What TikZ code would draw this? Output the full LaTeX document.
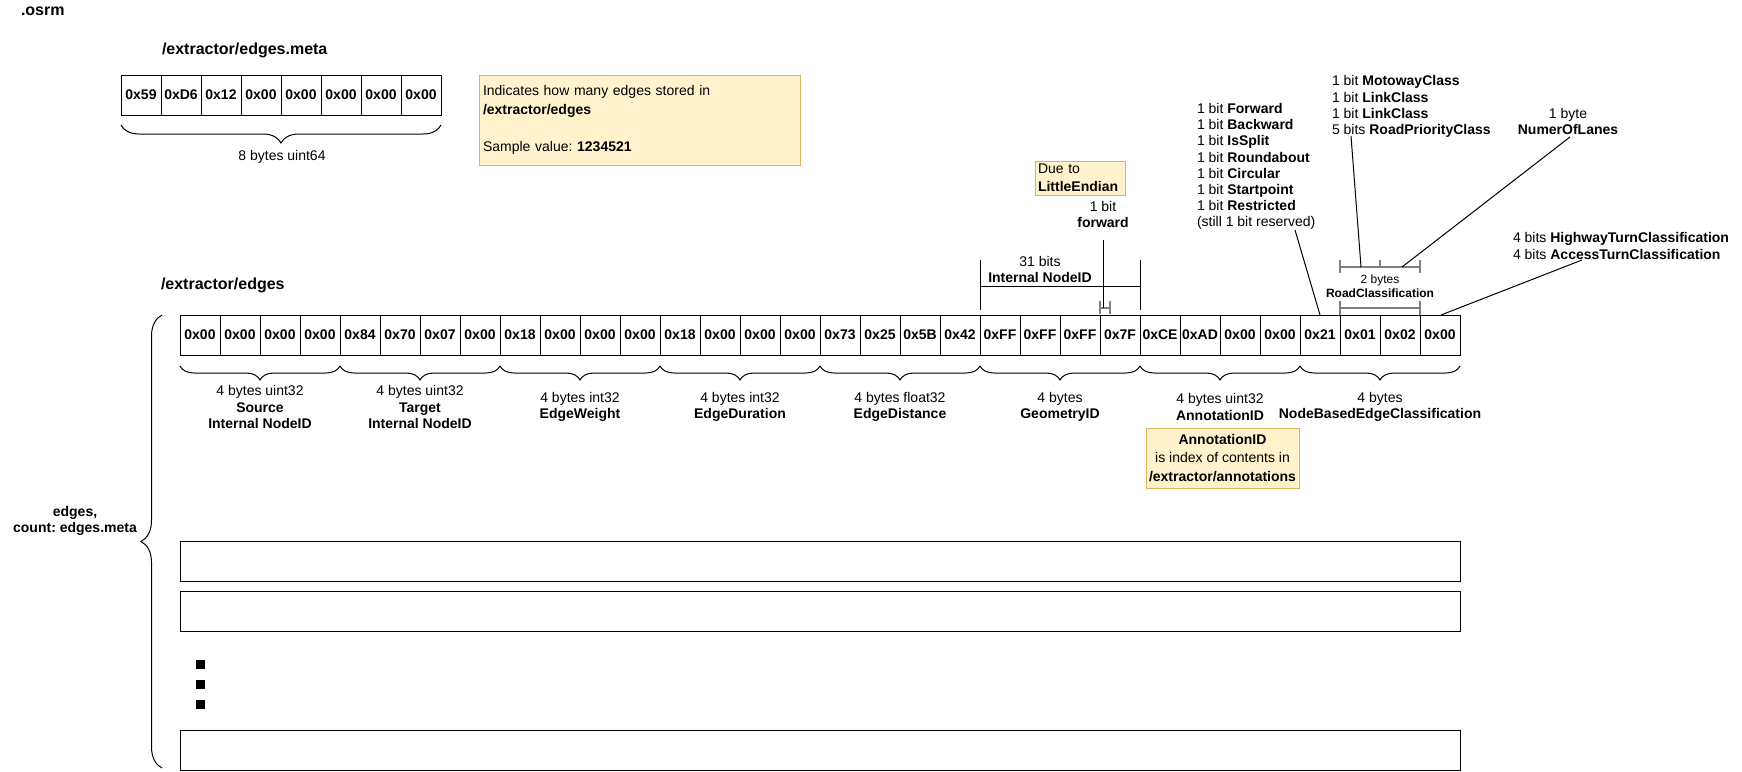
\documentclass[tikz,border=0pt]{standalone}
\usepackage{fontspec}
\setmainfont{Liberation Sans}
\usetikzlibrary{decorations.pathreplacing}
\definecolor{notefill}{HTML}{FFF2CC}
\definecolor{noteline}{HTML}{D6B656}
\definecolor{bracketgray}{HTML}{808080}
\frenchspacing
\begin{document}
\begin{tikzpicture}[x=1pt,y=-1pt,line width=1pt,
  every node/.style={inner sep=0pt,outer sep=0pt},
  lbl/.style={font=\fontsize{14}{16.5}\selectfont,align=center},
  title/.style={font=\bfseries\fontsize{16}{19}\selectfont,anchor=west},
  byte/.style={draw,minimum width=40pt,minimum height=40pt,anchor=north west,
    font=\bfseries\fontsize{14}{16}\selectfont},
  recordrow/.style={draw,minimum width=1280pt,minimum height=40pt,anchor=north west},
  note/.style={draw=noteline,fill=notefill,font=\fontsize{14}{18.5}\selectfont},
  brace/.style={decorate,decoration={brace,mirror,amplitude=14pt}},
  bits/.style={font=\fontsize{14}{16.1}\selectfont,align=left,anchor=west},
  gbar/.style={draw=bracketgray,line width=2pt},
]
\useasboundingbox (0,0) rectangle (1742,771);

% ---------- /extractor/edges.meta ----------
\node[title] (osrm) at (21,11) {.osrm};
\node[title] (metatitle) at (162,50) {/extractor/edges.meta};
\foreach \v [count=\i from 0] in {0x59,0xD6,0x12,0x00,0x00,0x00,0x00,0x00}
  \node[byte] (m\i) at ({121+40*\i},75) {\v};
\draw[brace,decoration={amplitude=18pt}]
  ([yshift=-10pt]m0.south west) -- ([yshift=-10pt]m7.south east);
\node[lbl] (metalbl) at (282,157) {8 bytes uint64};

\node[note,anchor=north west,minimum width=321pt,minimum height=90pt,
  text width=313pt,inner xsep=4pt,align=left] (metanote) at (479,75)
  {Indicates how many edges stored in\\\textbf{/extractor/edges}\\[18.5pt]Sample value: \textbf{1234521}};

% ---------- /extractor/edges ----------
\node[title] (edgestitle) at (161,285) {/extractor/edges};
\foreach \v [count=\i from 0] in {0x00,0x00,0x00,0x00,0x84,0x70,0x07,0x00,
    0x18,0x00,0x00,0x00,0x18,0x00,0x00,0x00,0x73,0x25,0x5B,0x42,
    0xFF,0xFF,0xFF,0x7F,0xCE,0xAD,0x00,0x00,0x21,0x01,0x02,0x00}
  \node[byte] (c\i) at ({180+40*\i},315) {\v};

\foreach \k in {0,...,7} {
  \pgfmathtruncatemacro\first{4*\k}
  \pgfmathtruncatemacro\last{4*\k+3}
  \draw[brace] ([yshift=-11pt]c\first.south west) -- ([yshift=-11pt]c\last.south east);
}

\node[lbl] (f0) at (260,407) {4 bytes uint32\\\textbf{Source}\\\textbf{Internal NodeID}};
\node[lbl] (f1) at (420,407) {4 bytes uint32\\\textbf{Target}\\\textbf{Internal NodeID}};
\node[lbl] (f2) at (580,407) {4 bytes int32\\\textbf{EdgeWeight}};
\node[lbl] (f3) at (740,407) {4 bytes int32\\\textbf{EdgeDuration}};
\node[lbl] (f4) at (900,407) {4 bytes float32\\\textbf{EdgeDistance}};
\node[lbl] (f5) at (1060,407) {4 bytes\\\textbf{GeometryID}};
\node[lbl] (f6) at (1220,407) {4 bytes uint32\\\textbf{AnnotationID}};
\node[lbl] (f7) at (1380,407) {4 bytes\\\textbf{NodeBasedEdgeClassification}};

\node[note,minimum width=153pt,minimum height=60pt,align=center] (annot) at (1222.5,458)
  {\textbf{AnnotationID}\\is index of contents in\\\textbf{/extractor/annotations}};

% ---------- further records ----------
\coordinate (bracetop) at (162,315);
\coordinate (bracebot) at (162,768);
\draw[brace,decoration={amplitude=21pt}] (bracetop) -- (bracebot);
\node[lbl,font=\bfseries\fontsize{14}{16}\selectfont] (edgeslbl) at (75,521) {edges,\\count: edges.meta};

\node[recordrow] (r1) at (180,541) {};
\node[recordrow] (r2) at (180,591) {};
\node[recordrow] (r3) at (180,730) {};
\foreach \y [count=\j] in {664.5,684.5,704.5}
  \node[fill,minimum size=9.5pt] (dot\j) at (200.5,\y) {};

% ---------- GeometryID bits ----------
\draw ([yshift=5pt]c20.north west) -- ([yshift=55pt]c20.north west);
\draw ([yshift=5pt]c23.north east) -- ([yshift=55pt]c23.north east);
\draw ([yshift=29pt]c20.north west) -- ([yshift=29pt]c23.north east);
\node[lbl,font=\fontsize{14}{15.5}\selectfont] (nid) at (1040,269.5) {31 bits\\\textbf{Internal NodeID}};

\draw[gbar,line width=1.5pt]
  ([shift={(0,-14)}]c23.north west) -- ([shift={(0,-1)}]c23.north west)
  ([shift={(10,-14)}]c23.north west) -- ([shift={(10,-1)}]c23.north west)
  ([shift={(0,-7)}]c23.north west) coordinate (fwdbarL) -- ([shift={(10,-7)}]c23.north west);
\node[lbl,font=\fontsize{14}{15.5}\selectfont] (fwd) at (1103,214.5) {1 bit\\\textbf{forward}};
\coordinate (fwdtop) at (1103,240);
\draw (fwdtop) -- ([xshift=3pt]fwdbarL);

\node[note,anchor=north west,minimum width=90pt,minimum height=34pt,
  text width=84pt,inner xsep=3pt,align=left,font=\fontsize{14}{18}\selectfont] (endian)
  at (1035,161) {Due to\\\textbf{LittleEndian}};

% ---------- NodeBasedEdgeClassification bits ----------
\node[bits] (flags) at (1197,166.5) {1 bit \textbf{Forward}\\1 bit \textbf{Backward}\\
  1 bit \textbf{IsSplit}\\1 bit \textbf{Roundabout}\\1 bit \textbf{Circular}\\
  1 bit \textbf{Startpoint}\\1 bit \textbf{Restricted}\\(still 1 bit reserved)};
\node[bits] (roadbits) at (1332,106.5) {1 bit \textbf{MotowayClass}\\1 bit \textbf{LinkClass}\\
  1 bit \textbf{LinkClass}\\5 bits \textbf{RoadPriorityClass}};
\node[lbl,font=\fontsize{14}{16}\selectfont] (lanes) at (1568,121) {1 byte\\\textbf{NumerOfLanes}};
\node[bits] (turn) at (1513,246) {4 bits \textbf{HighwayTurnClassification}\\
  4 bits \textbf{AccessTurnClassification}};

% RoadClassification brackets
\coordinate (rcL) at ([shift={(0,-48)}]c29.north west);
\coordinate (rcR) at ([shift={(0,-48)}]c30.north east);
\coordinate (rcM) at ([shift={(0,-48)}]c30.north west);
\draw[gbar] ([yshift=7pt]rcL) -- ([yshift=-6pt]rcL)
  ([yshift=7pt]rcR) -- ([yshift=-6pt]rcR)
  (rcL) -- (rcR)
  ([yshift=7pt]rcM) -- (rcM);
\draw[gbar] ([shift={(0,-14)}]c29.north west) -- (c29.north west)
  ([shift={(0,-14)}]c30.north east) -- (c30.north east)
  ([shift={(0,-7)}]c29.north west) -- ([shift={(0,-7)}]c30.north east);
\node[lbl,font=\fontsize{12}{14}\selectfont] (rclbl) at (1380,286) {2 bytes\\\textbf{RoadClassification}};

% leader lines
\coordinate (resv) at (1295,230);
\draw (resv) -- (c28.north);
\coordinate (prio) at (1351,136);
\draw (prio) -- ([xshift=-19pt]rcM);
\coordinate (lanesfoot) at (1570,137);
\draw (lanesfoot) -- ([xshift=22pt]rcM);
\coordinate (turnfoot) at (1582,260);
\draw (turnfoot) -- ([xshift=-19pt]c31.north east);
\end{tikzpicture}
\end{document}
